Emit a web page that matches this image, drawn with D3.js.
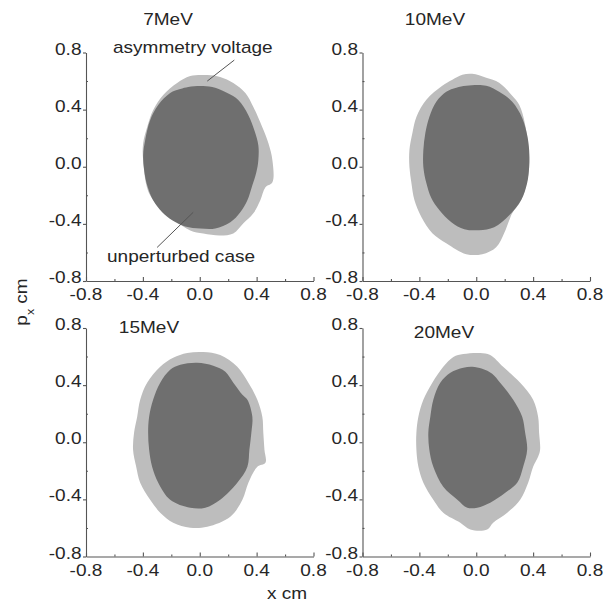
<!DOCTYPE html>
<html>
<head>
<meta charset="utf-8">
<script src="https://cdn.jsdelivr.net/npm/d3@7"></script>
<style>
  html, body { margin: 0; padding: 0; background: #fff; }
  svg { display: block; }
  text { font-family: "Liberation Sans", Arial, sans-serif; fill: #262626; }
</style>
</head>
<body>
<svg id="chart" width="609" height="604"></svg>
<script>
// Beam phase space (x, px) at four energies: unperturbed beam vs. with asymmetric voltage
const energies = ["7MeV", "10MeV", "15MeV", "20MeV"];
const majorTicks = [-0.8, -0.4, 0.0, 0.4, 0.8];
const minorTicks = [-0.6, -0.2, 0.2, 0.6];

// 7 MeV — outline of the asymmetric-voltage distribution
const asym7X = [-0.067, 0.053, 0.144, 0.236, 0.321, 0.377, 0.440, 0.483, 0.511, 0.511, 0.462, 0.426, 0.377, 0.307, 0.236, 0.144, 0.025, -0.067, -0.173, -0.349, -0.398, -0.398, -0.370, -0.328, -0.257, -0.159];
const asym7P = [0.635, 0.642, 0.628, 0.586, 0.516, 0.418, 0.277, 0.165, 0.046, -0.109, -0.144, -0.235, -0.326, -0.396, -0.467, -0.481, -0.467, -0.446, -0.375, -0.200, 0.046, 0.165, 0.277, 0.396, 0.502, 0.586];
// 7 MeV — outline of the unperturbed distribution
const base7X = [-0.081, 0.004, 0.088, 0.194, 0.271, 0.342, 0.384, 0.412, 0.412, 0.398, 0.370, 0.335, 0.285, 0.215, 0.109, 0.004, -0.102, -0.194, -0.264, -0.328, -0.370, -0.391, -0.398, -0.384, -0.349, -0.292, -0.208, -0.137];
const base7P = [0.558, 0.565, 0.558, 0.516, 0.467, 0.361, 0.256, 0.151, 0.046, -0.039, -0.130, -0.235, -0.319, -0.389, -0.432, -0.432, -0.418, -0.375, -0.319, -0.235, -0.130, -0.025, 0.081, 0.186, 0.326, 0.432, 0.516, 0.544];

// 10 MeV
const asym10X = [-0.098, -0.028, 0.070, 0.161, 0.253, 0.302, 0.344, 0.372, 0.316, 0.253, 0.232, 0.196, 0.140, 0.042, -0.070, -0.211, -0.309, -0.386, -0.435, -0.456, -0.470, -0.470, -0.449, -0.421, -0.351, -0.239, -0.168];
const asym10P = [0.644, 0.651, 0.623, 0.588, 0.497, 0.434, 0.293, -0.001, -0.233, -0.325, -0.374, -0.465, -0.563, -0.612, -0.612, -0.535, -0.465, -0.352, -0.233, -0.114, -0.001, 0.118, 0.237, 0.349, 0.469, 0.567, 0.609];
const base10X = [-0.070, 0.070, 0.161, 0.253, 0.323, 0.358, 0.372, 0.372, 0.358, 0.316, 0.232, 0.126, 0.021, -0.084, -0.175, -0.260, -0.316, -0.351, -0.372, -0.372, -0.358, -0.330, -0.281, -0.211, -0.140];
const base10P = [0.567, 0.567, 0.525, 0.455, 0.342, 0.223, 0.118, -0.001, -0.114, -0.233, -0.339, -0.423, -0.444, -0.437, -0.388, -0.303, -0.219, -0.114, -0.001, 0.118, 0.237, 0.349, 0.455, 0.525, 0.553];

// 15 MeV
const asym15X = [-0.088, 0.025, 0.144, 0.264, 0.342, 0.405, 0.440, 0.447, 0.455, 0.462, 0.405, 0.342, 0.300, 0.215, 0.053, -0.067, -0.187, -0.278, -0.349, -0.419, -0.447, -0.469, -0.462, -0.440, -0.419, -0.370, -0.278, -0.187];
const asym15P = [0.625, 0.632, 0.611, 0.528, 0.416, 0.297, 0.178, 0.066, -0.052, -0.143, -0.171, -0.283, -0.402, -0.521, -0.591, -0.598, -0.563, -0.493, -0.402, -0.283, -0.171, -0.052, 0.066, 0.178, 0.297, 0.416, 0.528, 0.591];
const base15X = [-0.137, -0.018, 0.095, 0.180, 0.236, 0.300, 0.335, 0.370, 0.363, 0.349, 0.335, 0.264, 0.144, 0.039, -0.067, -0.208, -0.292, -0.335, -0.356, -0.363, -0.356, -0.328, -0.278, -0.208];
const base15P = [0.542, 0.556, 0.535, 0.493, 0.416, 0.332, 0.297, 0.178, 0.066, -0.052, -0.171, -0.283, -0.402, -0.458, -0.458, -0.402, -0.283, -0.171, -0.052, 0.066, 0.178, 0.297, 0.416, 0.507];

// 20 MeV
const asym20X = [-0.091, 0.028, 0.098, 0.189, 0.309, 0.400, 0.435, 0.442, 0.449, 0.435, 0.400, 0.365, 0.309, 0.218, 0.119, 0.077, -0.042, -0.112, -0.232, -0.302, -0.372, -0.407, -0.421, -0.421, -0.407, -0.372, -0.309, -0.232, -0.161];
const asym20P = [0.618, 0.625, 0.611, 0.528, 0.416, 0.297, 0.178, 0.066, -0.052, -0.101, -0.171, -0.283, -0.402, -0.493, -0.563, -0.611, -0.611, -0.563, -0.493, -0.402, -0.283, -0.171, -0.052, 0.066, 0.178, 0.297, 0.416, 0.528, 0.597];
const base20X = [-0.091, -0.028, 0.042, 0.112, 0.168, 0.260, 0.323, 0.344, 0.358, 0.330, 0.288, 0.204, 0.098, 0.007, -0.063, -0.133, -0.232, -0.302, -0.330, -0.337, -0.323, -0.302, -0.253, -0.182];
const base20P = [0.521, 0.528, 0.514, 0.479, 0.416, 0.297, 0.178, 0.066, -0.052, -0.171, -0.283, -0.353, -0.423, -0.458, -0.458, -0.402, -0.311, -0.171, -0.052, 0.066, 0.178, 0.297, 0.416, 0.486];

// Callout leader lines in the 7 MeV panel (data coordinates)
const asymCallout = [[0.243, 0.747], [0.053, 0.600]];
const baseCallout = [[-0.300, -0.565], [-0.046, -0.319]];

const zip = (xs, ps) => xs.map((v, i) => [v, ps[i]]);
const panelData = [
  { title: energies[0], asym: zip(asym7X, asym7P), base: zip(base7X, base7P) },
  { title: energies[1], asym: zip(asym10X, asym10P), base: zip(base10X, base10P) },
  { title: energies[2], asym: zip(asym15X, asym15P), base: zip(base15X, base15P) },
  { title: energies[3], asym: zip(asym20X, asym20P), base: zip(base20X, base20P) }
];

const svg = d3.select("#chart");
const FONT = 17, STRETCH = 1.12;
const LIGHT = "#bdbdbd", DARK = "#6f6f6f", AXIS = "#555";

function label(g, str, x, y, anchor) {
  return g.append("text")
    .attr("transform", `translate(${x},${y}) scale(${STRETCH},1)`)
    .attr("text-anchor", anchor || "start")
    .style("font-size", FONT + "px")
    .text(str);
}

const lefts = [86, 362.5], tops = [52.5, 328];
const W = 227.5, H = 228.5;
// tick labels use a plain hyphen for the minus sign
const fmt = t => d3.format(".1f")(t).replace("\u2212", "-");
const titlePos = [[168, 25], [435, 25], [149, 333], [444, 338]];

panelData.forEach((pd, i) => {
  const left = lefts[i % 2], top = tops[Math.floor(i / 2)];
  const x = d3.scaleLinear().domain([-0.8, 0.8]).range([left, left + W]);
  const y = d3.scaleLinear().domain([-0.8, 0.8]).range([top + H, top]);
  const g = svg.append("g");

  const outline = d3.line().x(d => x(d[0])).y(d => y(d[1])).curve(d3.curveCatmullRomClosed.alpha(0.5));
  g.append("path").attr("d", outline(pd.asym)).attr("fill", LIGHT);
  g.append("path").attr("d", outline(pd.base)).attr("fill", DARK);

  // axes: x ticks point inward, y ticks outward
  g.append("g").attr("transform", `translate(0,${top + H})`)
    .call(d3.axisBottom(x).tickValues(majorTicks).tickSize(-4).tickSizeOuter(0).tickFormat(""));
  g.append("g").attr("transform", `translate(0,${top + H})`)
    .call(d3.axisBottom(x).tickValues(minorTicks).tickSize(-2).tickSizeOuter(0).tickFormat(""))
    .select(".domain").remove();
  g.append("g").attr("transform", `translate(${left},0)`)
    .call(d3.axisLeft(y).tickValues(majorTicks).tickSize(3).tickSizeOuter(0).tickFormat(""));
  g.append("g").attr("transform", `translate(${left},0)`)
    .call(d3.axisLeft(y).tickValues(minorTicks).tickSize(-2).tickSizeOuter(0).tickFormat(""))
    .select(".domain").remove();
  g.selectAll(".domain, .tick line").attr("stroke", AXIS).attr("stroke-width", 1.1);

  majorTicks.forEach(t => {
    label(g, fmt(t), x(t), top + H + 19, "middle");
    label(g, fmt(t), left - 4.5, y(t) + 2, "end");
  });

  label(g, pd.title, titlePos[i][0], titlePos[i][1], "middle");

  if (i === 0) {
    const seg = d3.line().x(d => x(d[0])).y(d => y(d[1]));
    g.append("path").attr("d", seg(asymCallout)).attr("stroke", AXIS).attr("fill", "none");
    g.append("path").attr("d", seg(baseCallout)).attr("stroke", AXIS).attr("fill", "none");
    label(g, "asymmetry voltage", 113, 53, "start");
    label(g, "unperturbed case", 107, 262, "start");
  }
});

// shared axis titles
label(svg, "x cm", 287, 599, "middle");
const yl = svg.append("text")
  .attr("transform", `translate(27,302) rotate(-90) scale(${STRETCH},1)`)
  .attr("text-anchor", "middle")
  .style("font-size", FONT + "px");
yl.append("tspan").text("p");
yl.append("tspan").attr("baseline-shift", "sub").style("font-size", "11px").text("x");
yl.append("tspan").text(" cm");
</script>
</body>
</html>
